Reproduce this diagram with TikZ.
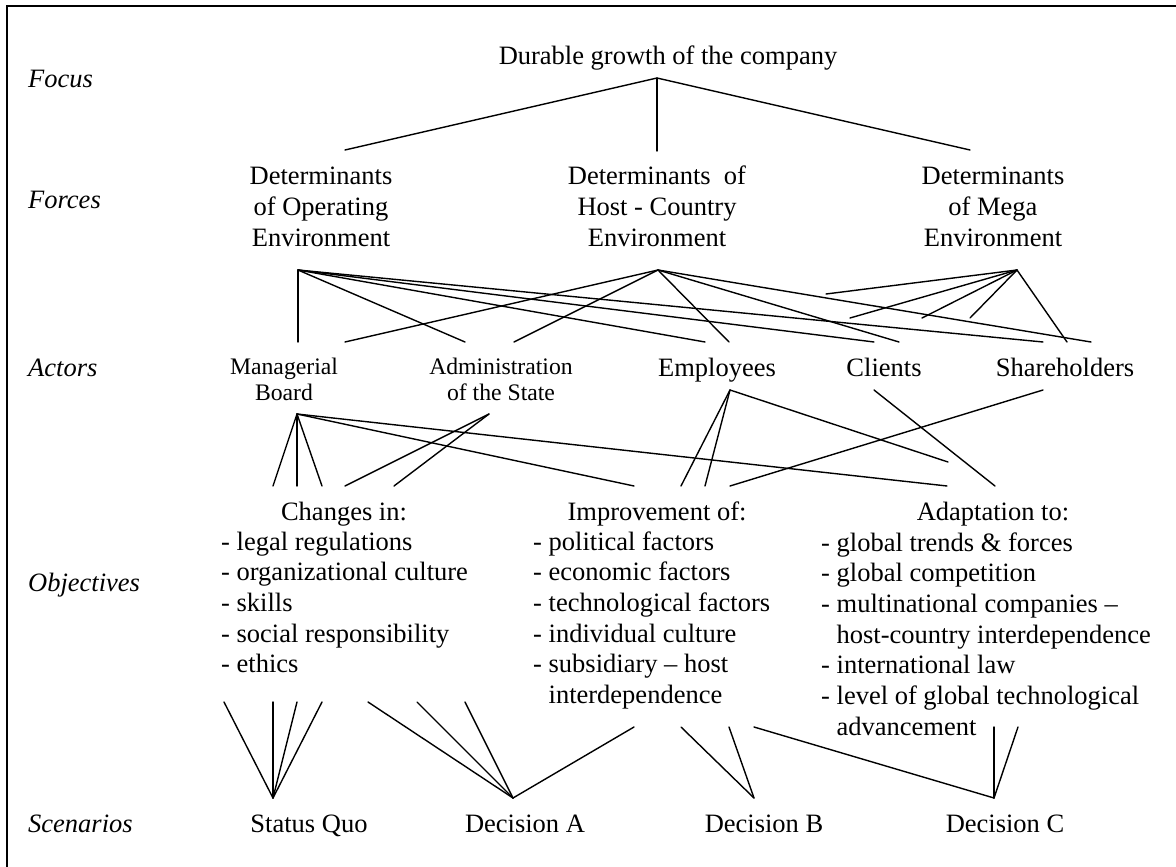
\documentclass[tikz,border=0pt]{standalone}
\usepackage{fontspec}
\setmainfont{Liberation Serif}
\begin{document}
\begin{tikzpicture}[x=1pt,y=-1pt,
  conn/.style={line width=1.4pt, line cap=round},
  frame/.style={line width=1.8pt},
  txt/.style={inner sep=0pt, font=\fontsize{26.5}{31}\selectfont},
  lst/.style={inner sep=0pt, font=\fontsize{26.5}{30.7}\selectfont, anchor=base west},
  smalltxt/.style={inner sep=0pt, font=\fontsize{23.7}{26}\selectfont},
  lab/.style={inner sep=0pt, font=\fontsize{26.5}{31}\selectfont\itshape, anchor=base west}]
\useasboundingbox (0,0) rectangle (1176,867);
% frame (right and bottom edges fall outside the page)
\draw[frame] (7,880) -- (7,6) -- (1190,6);

% row labels
\node[lab] (lfocus) at (28,88) {Focus};
\node[lab] (lforces) at (28,208) {Forces};
\node[lab] (lactors) at (28,376) {Actors};
\node[lab] (lobj) at (28,591) {Objectives};
\node[lab] (lscen) at (28,832) {Scenarios};

% focus
\node[txt, anchor=base] (focus) at (668,65) {Durable growth of the company};

% forces
\node[txt, anchor=base] (op) at (321,184) {\begin{tabular}[t]{@{}c@{}}Determinants\\of Operating\\Environment\end{tabular}};
\node[txt, anchor=base] (host) at (657,184) {\begin{tabular}[t]{@{}c@{}}Determinants\ \ of\\Host - Country\\Environment\end{tabular}};
\node[txt, anchor=base] (mega) at (993,184) {\begin{tabular}[t]{@{}c@{}}Determinants\\of Mega\\Environment\end{tabular}};

% actors
\node[smalltxt, anchor=base] (mb) at (284,374) {\begin{tabular}[t]{@{}c@{}}Managerial\\Board\end{tabular}};
\node[smalltxt, anchor=base] (adm) at (501,374) {\begin{tabular}[t]{@{}c@{}}Administration\\of the State\end{tabular}};
\node[txt, anchor=base] (emp) at (717,376) {Employees};
\node[txt, anchor=base] (cli) at (884,376) {Clients};
\node[txt, anchor=base] (sha) at (1065,376) {Shareholders};

% objectives
\node[txt, anchor=base] (chg) at (344,520) {Changes in:};
\node[txt, anchor=base] (imp) at (657,520) {Improvement of:};
\node[txt, anchor=base] (adp) at (993,520) {Adaptation to:};
\node[lst] (chglist) at (221,550) {\begin{tabular}[t]{@{}l@{}}- legal regulations\\- organizational culture\\- skills\\- social responsibility\\- ethics\end{tabular}};
\node[lst] (implist) at (533,550) {\begin{tabular}[t]{@{}l@{}}- political factors\\- economic factors\\- technological factors\\- individual culture\\- subsidiary -- host\\\phantom{-\ }interdependence\end{tabular}};
\node[lst] (adplist) at (821,551) {\begin{tabular}[t]{@{}l@{}}- global trends \& forces\\- global competition\\- multinational companies --\\\phantom{-\ }host-country interdependence\\- international law\\- level of global technological\\\phantom{-\ }advancement\end{tabular}};

% scenarios
\node[txt, anchor=base] (sq) at (309,832) {Status Quo};
\node[txt, anchor=base] (da) at (525,832) {Decision A};
\node[txt, anchor=base] (db) at (764,832) {Decision B};
\node[txt, anchor=base] (dc) at (1005,832) {Decision C};

% ---- connector end points ----
\coordinate (F) at (657,78);
\coordinate (fL) at (345,150);
\coordinate (fM) at (657,151);
\coordinate (fR) at (970,150);

\coordinate (O) at (298,270);
\coordinate (H) at (658,270);
\coordinate (M) at (1017,270);
\coordinate (mb1) at (298,342);
\coordinate (mb2) at (345,342);
\coordinate (ad1) at (465,342);
\coordinate (ad2) at (514,342);
\coordinate (em1) at (705,342);
\coordinate (em2) at (729,342);
\coordinate (cl1) at (874,342);
\coordinate (cl2) at (899,342);
\coordinate (sh1) at (1043,342);
\coordinate (sh2) at (1067,342);
\coordinate (sh3) at (1091,342);
\coordinate (m1) at (826,294);
\coordinate (m2) at (850,318);
\coordinate (m3) at (922,318);
\coordinate (m4) at (970,318);

\coordinate (B) at (297,414);
\coordinate (b1) at (273,486);
\coordinate (b2) at (297,486);
\coordinate (b3) at (322,486);
\coordinate (b4) at (634,486);
\coordinate (b5) at (947,486);
\coordinate (A) at (489,414);
\coordinate (a1) at (345,486);
\coordinate (a2) at (394,486);
\coordinate (E) at (730,390);
\coordinate (e1) at (681,486);
\coordinate (e2) at (705,486);
\coordinate (e3) at (948,462);
\coordinate (c0) at (874,390);
\coordinate (c1) at (995,486);
\coordinate (s0) at (1043,390);
\coordinate (s1) at (730,486);

\coordinate (S) at (273,798);
\coordinate (q1) at (224,702);
\coordinate (q2) at (273,702);
\coordinate (q3) at (297,702);
\coordinate (q4) at (322,702);
\coordinate (DA) at (513,798);
\coordinate (d1) at (368,702);
\coordinate (d2) at (417,702);
\coordinate (d3) at (465,702);
\coordinate (d4) at (634,727);
\coordinate (DB) at (754,798);
\coordinate (g1) at (681,727);
\coordinate (g2) at (729,727);
\coordinate (DC) at (994,798);
\coordinate (g3) at (754,727);
\coordinate (k1) at (994,727);
\coordinate (k2) at (1018,727);

% ---- connectors ----
\draw[conn] (fL) -- (F) -- (fR);
\draw[conn] (F) -- (fM);

\foreach \t in {mb1,ad1,em1,cl1,sh1} \draw[conn] (O) -- (\t);
\foreach \t in {mb2,ad2,em2,cl2,sh3} \draw[conn] (H) -- (\t);
\foreach \t in {m1,m2,m3,m4,sh2} \draw[conn] (M) -- (\t);

\foreach \t in {b1,b2,b3,b4,b5} \draw[conn] (B) -- (\t);
\foreach \t in {a1,a2} \draw[conn] (A) -- (\t);
\foreach \t in {e1,e2,e3} \draw[conn] (E) -- (\t);
\draw[conn] (c0) -- (c1);
\draw[conn] (s0) -- (s1);

\foreach \t in {q1,q2,q3,q4} \draw[conn] (S) -- (\t);
\foreach \t in {d1,d2,d3,d4} \draw[conn] (DA) -- (\t);
\foreach \t in {g1,g2} \draw[conn] (DB) -- (\t);
\foreach \t in {g3,k1,k2} \draw[conn] (DC) -- (\t);
\end{tikzpicture}
\end{document}
